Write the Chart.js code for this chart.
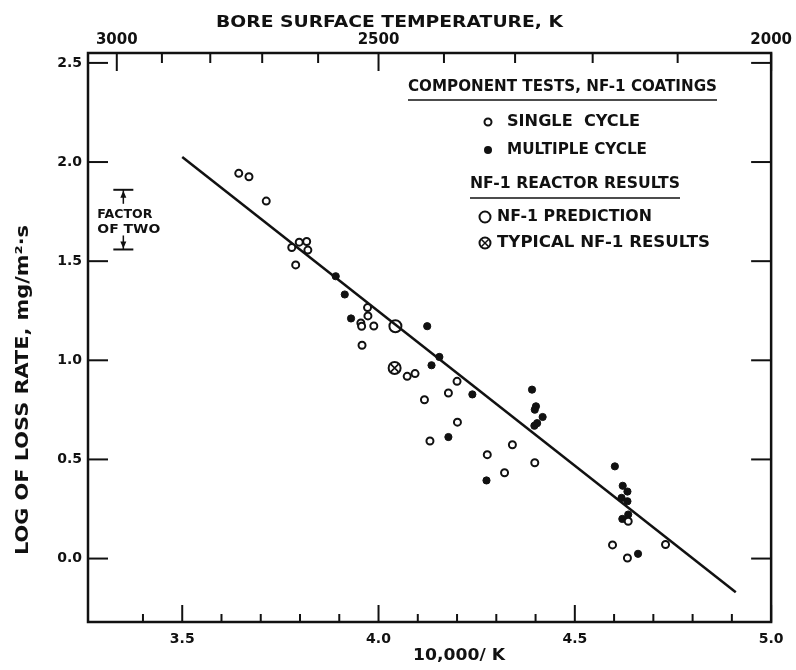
<!DOCTYPE html>
<html>
<head>
<meta charset="utf-8">
<script src="https://cdn.jsdelivr.net/npm/chart.js@4.4.1/dist/chart.umd.min.js"></script>
<style>
html, body { margin:0; padding:0; background:#fff; }
canvas { display:block; }
</style>
</head>
<body>
<canvas id="lossChart" width="796" height="670"></canvas>
<script>
// ==========================
// DATA
// ==========================
// component tests, single cycle (open circles)
const singleX = [3.644, 3.670, 3.714, 3.779, 3.798, 3.817, 3.820, 3.789, 3.972, 3.973,
                 3.955, 3.957, 3.988, 3.958, 4.073, 4.093, 4.200, 4.178, 4.117, 4.201,
                 4.131, 4.341, 4.277, 4.398, 4.321, 4.636, 4.596, 4.634, 4.731];
const singleY = [1.943, 1.926, 1.803, 1.569, 1.596, 1.599, 1.556, 1.481, 1.266, 1.224,
                 1.188, 1.172, 1.173, 1.076, 0.919, 0.933, 0.894, 0.835, 0.801, 0.688,
                 0.593, 0.574, 0.524, 0.483, 0.433, 0.188, 0.069, 0.003, 0.071];

// component tests, multiple cycle (filled circles)
const multiX = [3.891, 3.914, 3.930, 4.124, 4.155, 4.135, 4.239, 4.391, 4.401, 4.398,
                4.418, 4.404, 4.397, 4.178, 4.275, 4.602, 4.622, 4.634, 4.619, 4.634,
                4.636, 4.621, 4.661];
const multiY = [1.424, 1.332, 1.211, 1.172, 1.017, 0.975, 0.828, 0.852, 0.768, 0.751,
                0.714, 0.683, 0.670, 0.613, 0.394, 0.465, 0.367, 0.338, 0.306, 0.289,
                0.222, 0.200, 0.024];

// NF-1 reactor results
const predictionX = [4.043];
const predictionY = [1.172];
const typicalX = [4.041];
const typicalY = [0.961];

// fitted line
const fitX = [3.5, 4.91];
const fitY = [2.025, -0.17];

// axes
const xMin = 3.26, xMax = 5.0;
const yMin = -0.32, yMax = 2.55;
const xLabelValues = [3.5, 4.0, 4.5, 5.0];
const xTickValues = [3.4, 3.5, 3.6, 3.7, 3.8, 3.9, 4.0, 4.1, 4.2, 4.3, 4.4, 4.5, 4.6, 4.7, 4.8, 4.9, 5.0];
const yLabelValues = [0.0, 0.5, 1.0, 1.5, 2.0, 2.5];
const kLabelValues = [3000, 2500, 2000];
const kTickValues = [3000, 2900, 2800, 2700, 2600, 2500, 2400, 2300, 2200, 2100, 2000];

// factor of two marker (log10 units)
const factorX = 3.35;
const factorTop = 1.86;

const INK = '#111';
const FONT = '"DejaVu Sans", sans-serif';
Chart.defaults.font.family = FONT;

function pts(xs, ys){
    return xs.map((x, i) => ({ x: x, y: ys[i] }));
}

// text squeezed/stretched to a given width
function fitText(ctx, text, left, y, width, size){
    ctx.save();
    ctx.font = 'bold ' + size + 'px ' + FONT;
    ctx.textAlign = 'left';
    ctx.textBaseline = 'middle';
    const m = ctx.measureText(text).width;
    ctx.translate(left, y);
    ctx.scale(width / m, 1);
    ctx.fillText(text, 0, 0);
    ctx.restore();
}

function line(ctx, x1, y1, x2, y2){
    ctx.beginPath();
    ctx.moveTo(x1, y1);
    ctx.lineTo(x2, y2);
    ctx.stroke();
}

function ring(ctx, x, y, r){
    ctx.beginPath();
    ctx.arc(x, y, r, 0, Math.PI * 2);
    ctx.stroke();
}

// ==========================
// FRAME, TICKS, TEXTS
// ==========================
const framePlugin = {
    id: 'frame',
    afterDraw(chart){
        const ctx = chart.ctx;
        const a = chart.chartArea;
        const xs = chart.scales.x, ys = chart.scales.y, xt = chart.scales.xTop;
        ctx.save();
        ctx.strokeStyle = INK;
        ctx.fillStyle = INK;
        ctx.lineWidth = 2.5;
        ctx.strokeRect(a.left, a.top, a.right - a.left, a.bottom - a.top);

        // bottom ticks (inward)
        ctx.lineWidth = 2;
        xTickValues.forEach(v => {
            const p = xs.getPixelForValue(v);
            const major = Math.abs(v * 2 - Math.round(v * 2)) < 1e-6;
            line(ctx, p, a.bottom, p, a.bottom - (major ? 17 : 8));
        });
        // top ticks, kelvin
        kTickValues.forEach(k => {
            const p = xt.getPixelForValue(10000 / k);
            const major = k % 500 === 0;
            line(ctx, p, a.top, p, a.top + (major ? 18 : 10));
        });
        // left / right ticks
        yLabelValues.forEach(v => {
            const p = ys.getPixelForValue(v);
            line(ctx, a.left, p, a.left + 20, p);
            line(ctx, a.right, p, a.right - 20, p);
        });

        // factor of two
        const fx = xs.getPixelForValue(factorX);
        const fTop = ys.getPixelForValue(factorTop);
        const fBot = ys.getPixelForValue(factorTop - Math.log10(2));
        ctx.lineWidth = 2;
        line(ctx, fx - 10, fTop, fx + 10, fTop);
        line(ctx, fx - 10, fBot, fx + 10, fBot);
        ctx.lineWidth = 1.5;
        line(ctx, fx, fTop, fx, fTop + 14);
        line(ctx, fx, fBot, fx, fBot - 14);
        ctx.beginPath();
        ctx.moveTo(fx, fTop + 1); ctx.lineTo(fx - 3, fTop + 8); ctx.lineTo(fx + 3, fTop + 8); ctx.closePath();
        ctx.moveTo(fx, fBot - 1); ctx.lineTo(fx - 3, fBot - 8); ctx.lineTo(fx + 3, fBot - 8); ctx.closePath();
        ctx.fill();
        fitText(ctx, 'FACTOR', fx - 26, fTop + 25, 55, 12);
        fitText(ctx, 'OF TWO', fx - 26, fTop + 40, 63, 12);

        // axis titles
        fitText(ctx, 'BORE SURFACE TEMPERATURE, K', 216, 23, 347, 16);
        fitText(ctx, '10,000/ K', 413, 656, 92, 16);
        ctx.save();
        ctx.translate(24, 390);
        ctx.rotate(-Math.PI / 2);
        fitText(ctx, 'LOG OF LOSS RATE, mg/m\u00b2\u00b7s', -165, 0, 330, 17);
        ctx.restore();

        // legend
        ctx.lineWidth = 1.5;
        fitText(ctx, 'COMPONENT TESTS, NF-1 COATINGS', 408, 87, 309, 15);
        line(ctx, 408, 100, 717, 100);
        ctx.lineWidth = 2;
        ring(ctx, 488, 122, 3.5);
        fitText(ctx, 'SINGLE  CYCLE', 507, 122, 133, 15);
        ctx.beginPath(); ctx.arc(488, 150, 4, 0, Math.PI * 2); ctx.fill();
        fitText(ctx, 'MULTIPLE CYCLE', 507, 150, 140, 15);
        ctx.lineWidth = 1.5;
        fitText(ctx, 'NF-1 REACTOR RESULTS', 470, 184, 210, 15);
        line(ctx, 470, 198, 680, 198);
        ctx.lineWidth = 2;
        ring(ctx, 485, 217, 5.5);
        fitText(ctx, 'NF-1 PREDICTION', 497, 217, 155, 15);
        ring(ctx, 485, 243, 5.5);
        ctx.lineWidth = 1.5;
        line(ctx, 481.5, 239.5, 488.5, 246.5);
        line(ctx, 481.5, 246.5, 488.5, 239.5);
        fitText(ctx, 'TYPICAL NF-1 RESULTS', 497, 243, 213, 15);
        ctx.restore();
    }
};

// ==========================
// CHART
// ==========================
const tickFont = { family: FONT, size: 14, weight: 'bold' };

const lossChart = new Chart(document.getElementById("lossChart"), {
    type: 'scatter',
    data: {
        datasets: [
            {
                label: 'Fit',
                type: 'line',
                data: pts(fitX, fitY),
                borderColor: INK,
                borderWidth: 2.5,
                pointRadius: 0,
                fill: false,
                order: 4,
                xAxisID: 'x', yAxisID: 'y'
            },
            {
                label: 'Single cycle',
                data: pts(singleX, singleY),
                pointRadius: 3.5,
                borderWidth: 2,
                borderColor: INK,
                backgroundColor: '#fff',
                order: 2,
                xAxisID: 'x', yAxisID: 'y'
            },
            {
                label: 'Multiple cycle',
                data: pts(multiX, multiY),
                pointRadius: 3.6,
                borderWidth: 1,
                borderColor: INK,
                backgroundColor: INK,
                order: 2,
                xAxisID: 'x', yAxisID: 'y'
            },
            {
                label: 'NF-1 prediction',
                data: pts(predictionX, predictionY),
                pointRadius: 6,
                borderWidth: 2,
                borderColor: INK,
                backgroundColor: 'rgba(0,0,0,0)',
                order: 1,
                xAxisID: 'x', yAxisID: 'y'
            },
            {
                label: 'Typical NF-1 results',
                data: pts(typicalX, typicalY),
                pointRadius: 6,
                borderWidth: 2,
                borderColor: INK,
                backgroundColor: '#fff',
                order: 1,
                xAxisID: 'x', yAxisID: 'y'
            },
            {
                label: 'Typical NF-1 results (cross)',
                data: pts(typicalX, typicalY),
                pointStyle: 'crossRot',
                pointRadius: 5.5,
                borderWidth: 1.6,
                borderColor: INK,
                order: 0,
                xAxisID: 'x', yAxisID: 'y'
            }
        ]
    },
    options: {
        responsive: false,
        animation: false,
        events: [],
        layout: { padding: { left: 0, right: 20, top: 0, bottom: 0 } },
        plugins: { legend: { display: false }, tooltip: { enabled: false } },
        scales: {
            x: {
                type: 'linear', axis: 'x', position: 'bottom',
                min: xMin, max: xMax,
                grid: { display: false, drawTicks: false },
                border: { display: false },
                afterBuildTicks: s => { s.ticks = xLabelValues.map(v => ({ value: v })); },
                afterFit: s => { s.height = 48; },
                ticks: { autoSkip: false, maxRotation: 0, padding: 9, font: tickFont, color: INK,
                         callback: v => v.toFixed(1) }
            },
            xTop: {
                type: 'linear', axis: 'x', position: 'top',
                min: xMin, max: xMax,
                grid: { display: false, drawTicks: false },
                border: { display: false },
                afterBuildTicks: s => { s.ticks = kLabelValues.map(k => ({ value: 10000 / k })); },
                afterFit: s => { s.height = 53; },
                ticks: { autoSkip: false, maxRotation: 0, padding: 4, font: { family: FONT, size: 15, weight: 'bold' }, color: INK,
                         callback: v => String(Math.round(10000 / v)) }
            },
            y: {
                type: 'linear', position: 'left',
                min: yMin, max: yMax,
                grid: { display: false, drawTicks: false },
                border: { display: false },
                afterBuildTicks: s => { s.ticks = yLabelValues.map(v => ({ value: v })); },
                afterFit: s => { s.width = 88; },
                ticks: { autoSkip: false, padding: 6, font: tickFont, color: INK,
                         callback: v => v.toFixed(1) }
            }
        }
    },
    plugins: [framePlugin]
});
</script>
</body>
</html>
